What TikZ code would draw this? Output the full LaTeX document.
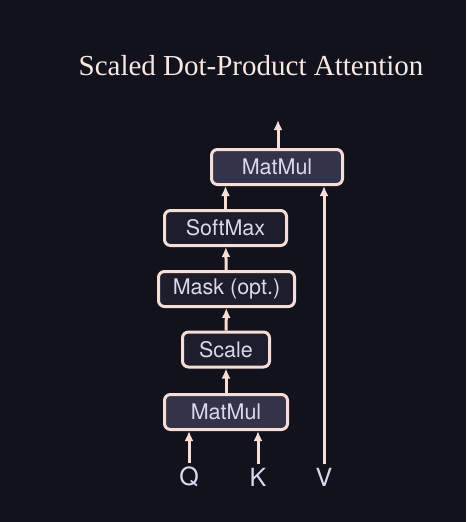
\documentclass[tikz,border=0pt]{standalone}
\usepackage{fontspec}
\setmainfont{Liberation Serif}
\setsansfont{TeX Gyre Heros}
\usetikzlibrary{arrows.meta}

\definecolor{bg}{HTML}{12121C}
\definecolor{edge}{HTML}{F6DDD6}
\definecolor{darkbox}{HTML}{1D1D2B}
\definecolor{litebox}{HTML}{33334A}
\definecolor{txt}{HTML}{D8D8EE}

\begin{document}
\begin{tikzpicture}[x=1pt,y=-1pt,>={Latex[length=10pt,width=9pt]},
  op/.style={draw=edge,line width=3pt,rounded corners=6pt,fill=darkbox,
    minimum height=35pt,inner sep=0pt,text=txt,font=\sffamily\fontsize{21.5}{21.5}\selectfont},
  mm/.style={op,fill=litebox},
  inp/.style={text=txt,font=\sffamily\fontsize{25}{25}\selectfont},
  flow/.style={->,draw=edge,line width=3pt}]
 \fill[bg] (0,0) rectangle (466,522);
 \node[text=edge!70!white,font=\fontsize{29}{29}\selectfont] (title) at (251,66) {Scaled Dot-Product Attention};

 \node[mm,minimum width=131pt] (mmtop) at (277,167) {MatMul};
 \node[op,minimum width=122pt] (soft) at (225.5,228) {SoftMax};
 \node[op,minimum width=136pt] (mask) at (226.5,289) {Mask (opt.)};
 \node[op,minimum width=87pt] (scale) at (226,349.5) {Scale};
 \node[mm,minimum width=123pt] (mmbot) at (226,412) {MatMul};

 \node[inp] (q) at (189,477) {Q};
 \node[inp] (k) at (258,477) {K};
 \node[inp] (v) at (324,477) {V};
 \coordinate (out) at (278,120);

 \draw[flow] (q.north) -- (q |- mmbot.south);
 \draw[flow] (k.north) -- (k |- mmbot.south);
 \draw[flow] (mmbot) -- (scale);
 \draw[flow] (scale) -- (mask);
 \draw[flow] (mask) -- (soft);
 \draw[flow] (soft.north) -- (soft.north |- mmtop.south);
 \draw[flow] (v.north) -- (v |- mmtop.south);
 \draw[flow] (mmtop.north -| out) -- (out);
\end{tikzpicture}
\end{document}
